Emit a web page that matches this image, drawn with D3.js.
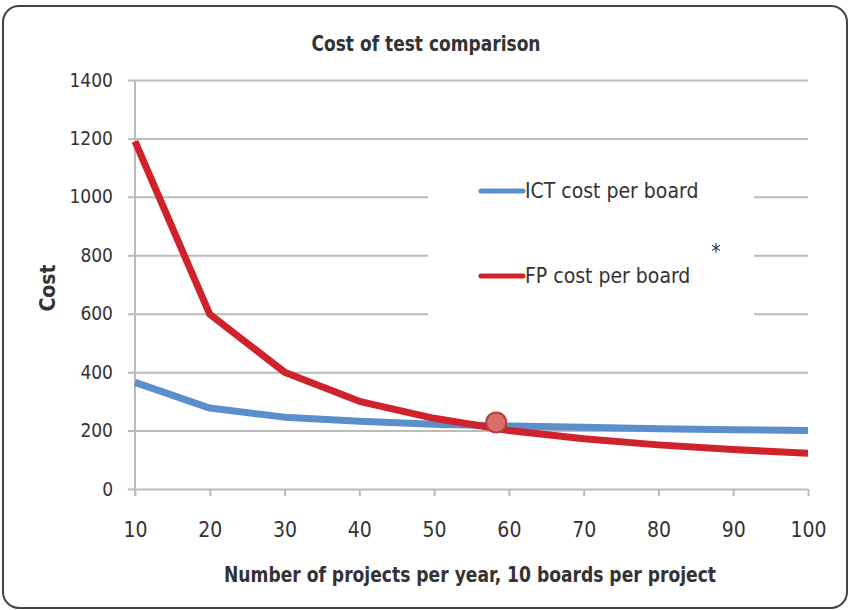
<!DOCTYPE html>
<html>
<head>
<meta charset="utf-8">
<script src="https://cdn.jsdelivr.net/npm/d3@7"></script>
<style>
  body { margin: 0; background: #fff; }
  svg text { font-family: "Liberation Sans Narrow", "DejaVu Sans Condensed", "Roboto", sans-serif; fill: #333; }
</style>
</head>
<body>
<div id="vis"></div>
<script>
// data
const projects = [10, 20, 30, 40, 50, 60, 70, 80, 90, 100];
const ictCost = [365, 277, 246, 232, 222, 216, 211, 206, 203, 200];
const fpCost = [1190, 598, 400, 300, 242, 200, 172, 151, 135, 122];
const yTicks = [0, 200, 400, 600, 800, 1000, 1200, 1400];
const seriesNames = ["ICT cost per board", "FP cost per board"];
const crossover = [{ x: 58.3, y: 228 }];

const W = 851, H = 610;
const margin = { top: 80, right: 43, bottom: 121, left: 135 };

const svg = d3.select("#vis").append("svg")
    .attr("width", W)
    .attr("height", H);

// rounded frame
svg.append("rect")
    .attr("x", 3).attr("y", 6)
    .attr("width", 844).attr("height", 602)
    .attr("rx", 16)
    .attr("fill", "#fff")
    .attr("stroke", "#444")
    .attr("stroke-width", 2);

const x = d3.scaleLinear().domain([10, 100]).range([margin.left, W - margin.right]);
const y = d3.scaleLinear().domain([0, 1400]).range([H - margin.bottom, margin.top]);

// gridlines + y tick labels
const yAxis = svg.append("g")
    .attr("transform", `translate(${margin.left - 7},0)`)
    .call(d3.axisLeft(y).tickValues(yTicks)
        .tickSizeInner(-(W - margin.right - margin.left + 7))
        .tickSizeOuter(0).tickPadding(15).tickFormat(d3.format("d")));
yAxis.select(".domain").remove();
yAxis.selectAll(".tick line").attr("stroke", "#bbb").attr("stroke-width", 2);
yAxis.selectAll(".tick text").style("font-size", "19px").attr("fill", "#333");

// vertical axis line
svg.append("line")
    .attr("x1", x(10)).attr("x2", x(10))
    .attr("y1", y(1400)).attr("y2", y(0) + 7)
    .attr("stroke", "#bbb").attr("stroke-width", 2);

// x axis ticks + labels
const xAxis = svg.append("g")
    .attr("transform", `translate(0,${y(0)})`)
    .call(d3.axisBottom(x).tickValues(projects)
        .tickSizeInner(7).tickSizeOuter(0).tickPadding(26));
xAxis.select(".domain").remove();
xAxis.selectAll(".tick line").attr("stroke", "#bbb").attr("stroke-width", 2);
xAxis.selectAll(".tick text").style("font-size", "21px").attr("fill", "#333");

// legend backdrop hides the gridlines
svg.append("rect")
    .attr("x", 428).attr("y", 150)
    .attr("width", 326).attr("height", 180)
    .attr("fill", "#fff");

const colors = ["#5b8fcc", "#d0222b"];
const series = [ictCost, fpCost];
const line = d3.line()
    .x((d, i) => x(projects[i]))
    .y(d => y(d));

svg.append("g").selectAll("path")
    .data(series)
    .join("path")
    .attr("d", line)
    .attr("fill", "none")
    .attr("stroke", (d, i) => colors[i])
    .attr("stroke-width", 7)
    .attr("stroke-linejoin", "round");

// crossover marker
svg.append("g").selectAll("circle")
    .data(crossover)
    .join("circle")
    .attr("cx", d => x(d.x))
    .attr("cy", d => y(d.y))
    .attr("r", 10)
    .attr("fill", "#d96e6c")
    .attr("stroke", "#b24140")
    .attr("stroke-width", 2);

// legend
const legend = svg.append("g").selectAll("g")
    .data(seriesNames)
    .join("g")
    .attr("transform", (d, i) => `translate(481,${191 + i * 85})`);
legend.append("line")
    .attr("x1", 0).attr("x2", 42)
    .attr("stroke", (d, i) => colors[i])
    .attr("stroke-width", 5)
    .attr("stroke-linecap", "round");
legend.append("text")
    .attr("x", 44).attr("dy", "0.35em")
    .style("font-size", "21px")
    .text(d => d);

svg.append("text")
    .attr("x", 716).attr("y", 259)
    .attr("text-anchor", "middle")
    .style("font-size", "21px")
    .text("*");

// titles
svg.append("text")
    .attr("x", 426).attr("y", 51)
    .attr("text-anchor", "middle")
    .attr("textLength", 229).attr("lengthAdjust", "spacingAndGlyphs")
    .style("font-size", "21px").style("font-weight", "bold")
    .attr("fill", "#111")
    .text("Cost of test comparison");

svg.append("text")
    .attr("x", 470).attr("y", 582)
    .attr("text-anchor", "middle")
    .attr("textLength", 492).attr("lengthAdjust", "spacingAndGlyphs")
    .style("font-size", "21px").style("font-weight", "bold")
    .attr("fill", "#111")
    .text("Number of projects per year, 10 boards per project");

svg.append("text")
    .attr("transform", "translate(55,288) rotate(-90)")
    .attr("text-anchor", "middle")
    .style("font-size", "21px").style("font-weight", "bold")
    .attr("fill", "#111")
    .text("Cost");
</script>
</body>
</html>
